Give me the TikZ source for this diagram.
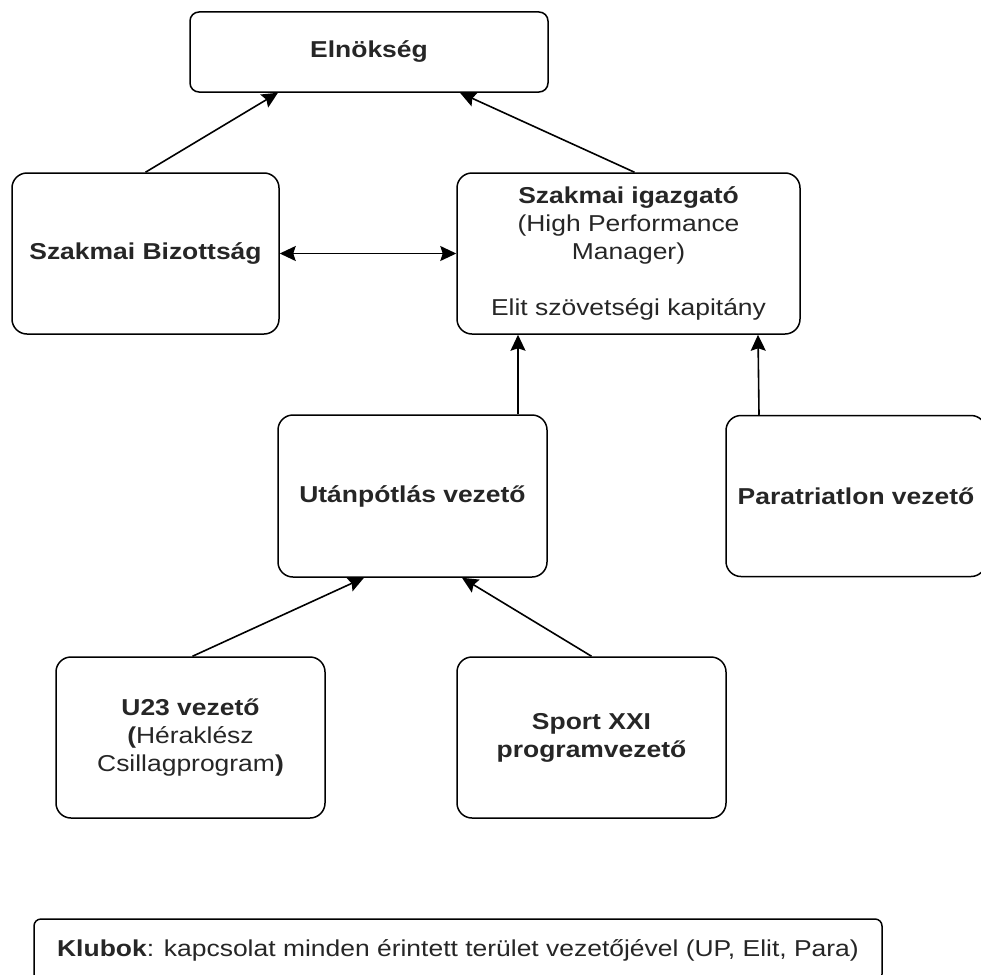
\documentclass[tikz,border=0pt]{standalone}
\usepackage{fontspec}
\setmainfont{Liberation Sans}[FakeStretch=1.15]
\usetikzlibrary{arrows.meta}
\begin{document}
\begin{tikzpicture}[x=1pt,y=-1pt,
  box/.style={draw, line width=1.5pt, rounded corners=#1, inner sep=0pt, align=center,
    font=\fontsize{23}{27.8}\selectfont, text=black!85},
  box/.default=15pt,
  conn/.style={line width=1.6pt, -{Stealth[length=16pt,width=15pt,inset=2.5pt]}},
  dconn/.style={line width=1.6pt, {Stealth[length=16pt,width=15pt,inset=2.5pt]}-{Stealth[length=16pt,width=15pt,inset=2.5pt]}},
]
\useasboundingbox (0,0) rectangle (981,974);

\node[box=9pt, minimum width=358pt, minimum height=80pt] (eln) at (369,52) {\textbf{Elnökség}};
\node[box, minimum width=267pt, minimum height=161pt] (biz) at (145.5,253.5) {\textbf{Szakmai Bizottság}};
\node[box, minimum width=343pt, minimum height=161pt] (ig) at (628.5,253.5)
  {\textbf{Szakmai igazgató}\\(High Performance\\Manager)\\[27.8pt]Elit szövetségi kapitány};
\node[box, minimum width=269pt, minimum height=162pt] (ut) at (412.5,496) {\textbf{Utánpótlás vezető}};
\node[box, minimum width=260pt, minimum height=161pt] (para) at (856,496) {\textbf{Paratriatlon vezető}};
\node[box, minimum width=269pt, minimum height=161pt] (u23) at (190.5,737.5)
  {\textbf{U23 vezető}\\\textbf{(}Héraklész\\Csillagprogram\textbf{)}};
\node[box, minimum width=269pt, minimum height=161pt] (sport) at (591.5,737.5)
  {\textbf{Sport XXI}\\\textbf{programvezető}};
\node[box=7pt, minimum width=848pt, minimum height=62pt, text depth=4pt] (klub) at (458,950)
  {\textbf{Klubok}: kapcsolat minden érintett terület vezetőjével (UP, Elit, Para)};

\draw[conn] (biz.north) -- ([xshift=-91pt]eln.south);
\draw[conn] ([xshift=6pt]ig.north) -- ([xshift=91pt]eln.south);
\draw[dconn] (biz.east) -- (ig.west);
\draw[conn] ([xshift=105.5pt]ut.north) -- ([xshift=-110.5pt]ig.south);
\draw[conn] ([xshift=-97pt]para.north) -- ([xshift=129.5pt]ig.south);
\draw[conn] ([xshift=2pt]u23.north) -- ([xshift=-48.5pt]ut.south);
\draw[conn] (sport.north) -- ([xshift=49.5pt]ut.south);
\end{tikzpicture}
\end{document}
